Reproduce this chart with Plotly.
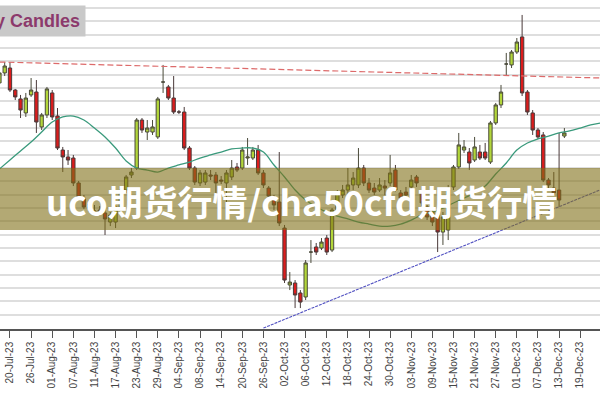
import pandas as pd
import plotly.graph_objects as go

# Trading days (all weekdays) shown on the category axis
dates = pd.bdate_range("2023-07-18", "2023-12-29")
labels = [d.strftime("%d-%b-%y") for d in dates]

# OHLC values, 18-Jul-23 .. 14-Dec-23
opens = [38.38, 39.13, 39.50, 37.85, 37.18, 36.13, 37.48, 37.70, 35.08, 35.98,
         37.63, 35.90, 33.35, 32.83, 32.75, 30.88, 29.75, 29.00, 28.70, 28.85,
         28.63, 27.95, 27.95, 29.08, 30.35, 31.48, 32.00, 35.60, 34.70, 34.70,
         34.33, 38.45, 38.08, 37.25, 36.20, 36.20, 33.50, 32.00, 30.88, 30.95,
         31.48, 31.48, 31.10, 30.88, 31.33, 32.08, 32.00, 32.75, 32.75, 33.35,
         31.63, 30.50, 29.75, 29.45, 27.50, 23.23, 23.38, 22.63, 22.33, 25.70,
         26.08, 26.00, 26.75, 25.85, 28.85, 29.98, 30.35, 30.73, 30.73, 32.00,
         30.88, 30.50, 30.35, 30.65, 30.88, 31.85, 30.13, 30.20, 30.58, 31.33,
         30.13, 29.08, 28.70, 28.48, 27.20, 27.35, 30.58, 32.08, 33.35, 33.20,
         32.60, 33.20, 33.20, 32.45, 35.38, 36.73, 39.80, 39.73, 40.70, 41.83,
         37.70, 36.13, 34.85, 34.48, 31.10, 30.50, 30.35, 34.40]
highs = [39.73, 39.95, 39.95, 37.93, 37.48, 37.63, 38.75, 38.60, 36.13, 38.08,
         37.85, 36.50, 33.58, 33.35, 32.98, 31.03, 29.98, 29.60, 29.23, 29.15,
         29.00, 28.70, 29.23, 30.50, 31.48, 32.00, 35.75, 35.75, 35.60, 35.60,
         37.33, 39.73, 38.23, 38.90, 36.35, 36.58, 33.65, 32.15, 31.85, 31.85,
         31.85, 31.70, 31.40, 31.85, 32.60, 32.38, 33.58, 34.25, 33.58, 33.73,
         31.85, 30.65, 29.98, 33.20, 27.73, 24.20, 23.60, 22.85, 25.10, 26.60,
         26.38, 26.75, 26.98, 29.00, 30.35, 30.73, 32.00, 31.70, 33.50, 32.23,
         31.25, 30.88, 31.25, 31.10, 32.98, 32.23, 30.35, 30.58, 31.48, 31.48,
         30.35, 29.23, 29.00, 28.70, 28.70, 30.73, 32.23, 34.63, 34.10, 33.50,
         34.33, 33.73, 33.88, 35.53, 36.88, 38.23, 40.63, 40.85, 41.75, 43.48,
         37.85, 36.35, 35.00, 34.70, 31.25, 31.70, 34.63, 35.00]
lows = [38.00, 38.90, 37.70, 37.10, 35.75, 35.83, 37.33, 34.63, 34.85, 35.75,
        35.60, 33.35, 31.70, 32.23, 30.65, 29.60, 28.93, 28.70, 28.48, 28.40,
        26.98, 27.65, 27.50, 28.85, 30.13, 31.25, 31.85, 34.63, 34.10, 34.48,
        34.18, 37.63, 37.10, 36.05, 36.05, 33.35, 31.85, 30.73, 30.65, 30.73,
        31.10, 30.13, 30.80, 28.25, 31.10, 31.70, 31.85, 32.23, 32.60, 31.48,
        30.50, 29.60, 28.85, 27.65, 23.38, 22.85, 21.50, 21.50, 22.10, 24.88,
        25.48, 25.85, 25.48, 25.70, 28.70, 29.75, 29.98, 30.35, 30.50, 30.65,
        30.13, 29.98, 30.20, 29.98, 30.65, 30.20, 29.53, 29.75, 30.35, 30.58,
        29.15, 28.10, 27.65, 25.70, 26.23, 26.60, 30.35, 31.93, 33.13, 31.85,
        32.45, 32.60, 32.60, 32.30, 35.23, 36.50, 38.98, 39.50, 40.55, 37.40,
        35.98, 34.48, 34.18, 30.95, 30.50, 29.98, 29.08, 34.25]
closes = [39.13, 39.65, 37.85, 37.33, 36.35, 37.25, 37.85, 35.45, 35.98, 37.93,
          35.83, 33.50, 32.83, 32.60, 30.88, 29.83, 29.08, 29.30, 28.78, 28.70,
          28.18, 28.48, 29.08, 30.35, 31.33, 31.70, 35.60, 34.85, 35.00, 35.08,
          37.18, 38.45, 37.25, 36.20, 36.20, 33.50, 32.00, 30.95, 31.63, 31.63,
          31.40, 30.88, 31.03, 31.63, 32.00, 31.85, 33.35, 32.83, 33.35, 31.63,
          30.73, 29.90, 29.23, 27.88, 23.60, 23.45, 22.48, 21.95, 24.88, 25.70,
          25.70, 26.45, 25.70, 28.85, 30.13, 30.35, 30.73, 31.25, 32.00, 30.88,
          30.35, 30.20, 30.73, 30.50, 31.63, 30.35, 29.75, 29.98, 31.10, 30.88,
          29.38, 28.33, 27.95, 27.20, 28.33, 30.35, 32.08, 33.73, 33.58, 32.38,
          33.58, 32.75, 32.75, 35.38, 36.73, 37.70, 39.80, 40.70, 41.45, 37.63,
          36.20, 34.85, 34.33, 31.10, 30.73, 30.13, 29.60, 34.63]

# Moving average, read every second trading day (18-Jul-23 .. 25-Dec-23)
ma_values = [31.93, 32.60, 33.28, 33.95, 34.70, 35.45, 35.83, 35.90, 35.60, 35.00,
             34.33, 33.50, 32.53, 32.00, 31.85, 31.70, 32.00, 32.23, 32.45, 32.75,
             32.98, 33.20, 33.43, 33.50, 33.50, 33.20, 32.23, 31.33, 30.35, 29.60,
             29.08, 28.70, 28.40, 28.18, 27.95, 27.80, 27.65, 27.65, 27.80, 28.10,
             28.48, 28.70, 29.00, 29.38, 29.75, 30.13, 30.65, 31.55, 32.38, 33.35,
             33.88, 34.18, 34.40, 34.63, 34.78, 35.00, 35.23, 35.38]

# Trend lines (end points)
resistance_dates = ["18-Jul-23", "25-Dec-23"]
resistance_values = [39.95, 38.75]
support_dates = ["26-Sep-23", "25-Dec-23"]
support_values = [20.0, 30.4]

title_text = "Daily Candles"
banner_text = "uco期货行情/cha50cfd期货行情"

candle_dates = labels[:len(opens)]
ma_dates = labels[0:2 * len(ma_values):2]
tick_dates = labels[2::4]

fig = go.Figure()
fig.add_trace(go.Candlestick(
    x=candle_dates, open=opens, high=highs, low=lows, close=closes,
    increasing=dict(fillcolor="#b2d63a", line=dict(color="#4a4a3a", width=1)),
    decreasing=dict(fillcolor="#dc1c1c", line=dict(color="#4a3a3a", width=1)),
    whiskerwidth=0, showlegend=False, hoverinfo="skip",
))
fig.add_trace(go.Scatter(
    x=ma_dates, y=ma_values, mode="lines",
    line=dict(color="#3a9a7c", width=1.3, shape="spline"),
    showlegend=False, hoverinfo="skip",
))
fig.add_trace(go.Scatter(
    x=resistance_dates, y=resistance_values, mode="lines",
    line=dict(color="#dd6a6a", width=1.2, dash="6px,3px"),
    showlegend=False, hoverinfo="skip",
))
fig.add_trace(go.Scatter(
    x=support_dates, y=support_values, mode="lines",
    line=dict(color="#5252c2", width=1.1, dash="3px,1px"),
    showlegend=False, hoverinfo="skip",
))

fig.update_layout(
    width=600, height=400,
    margin=dict(l=0, r=0, t=0, b=71),
    paper_bgcolor="white", plot_bgcolor="white",
    boxgap=0.1,
    xaxis=dict(
        type="category", categoryorder="array", categoryarray=labels,
        range=[0.11, 113.75],
        rangeslider=dict(visible=False),
        tickmode="array", tickvals=tick_dates, ticktext=tick_dates,
        tickangle=-90, tickfont=dict(family="Liberation Sans, Arial", size=10, color="#444"),
        ticks="outside", ticklen=7, tickcolor="#555", tickwidth=1,
        showgrid=False, showline=True, linecolor="#555", linewidth=1.5,
        zeroline=False,
    ),
    yaxis=dict(
        range=[19.93, 44.6], dtick=1, tick0=20,
        showgrid=True, gridcolor="#dedede", gridwidth=1.6,
        showticklabels=False, zeroline=False, showline=False, ticks="",
    ),
    shapes=[dict(
        type="rect", xref="paper", yref="paper",
        x0=0, x1=1, y0=1 - 230 / 329, y1=1 - 168 / 329,
        fillcolor="rgba(128,112,24,0.6)", line=dict(width=0), layer="above",
    )],
    annotations=[
        dict(
            text=banner_text, xref="paper", yref="paper", x=0.503, y=1 - 201 / 329,
            xanchor="center", yanchor="middle", showarrow=False,
            font=dict(family="Noto Sans CJK SC", size=35, color="white", weight="bold"),
        ),
        dict(
            text=title_text, xref="paper", yref="paper", x=86 / 600, y=1 - 5 / 329,
            xanchor="right", yanchor="top", showarrow=False,
            bgcolor="#c9c9c9", borderpad=5,
            font=dict(family="Liberation Sans, Arial", size=18, color="#8c3a6c", weight="bold"),
        ),
    ],
)

fig.write_html(
    "out.html",
    config={"displayModeBar": False},
    post_script="document.body.style.margin='0';document.body.style.overflow='hidden';",
)
